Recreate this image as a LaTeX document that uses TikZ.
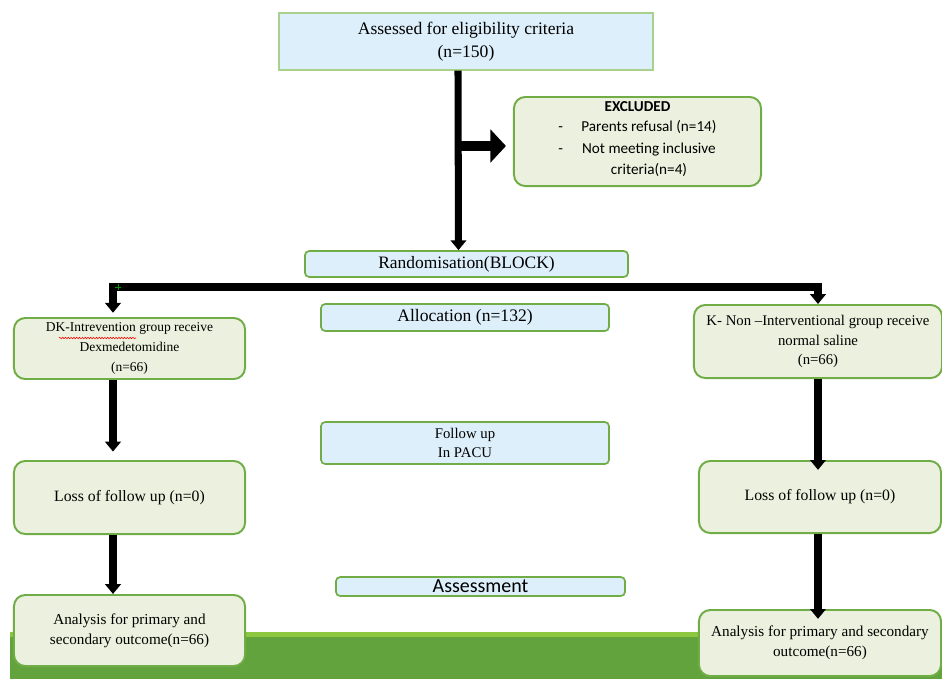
\documentclass[tikz,border=0pt]{standalone}
\usepackage{fontspec}
\setmainfont{Liberation Serif}
\newfontfamily\calibri{Carlito}
\usepackage{xcolor}
\usetikzlibrary{shapes,arrows.meta,positioning,calc,decorations.pathmorphing}
\definecolor{boxblue}{HTML}{DDEFFA}
\definecolor{boxgreen}{HTML}{EBF1DE}
\definecolor{edgegreen}{HTML}{70AD47}
\definecolor{edgelight}{HTML}{A9D18E}
\definecolor{bandgreen}{HTML}{62A33E}
\definecolor{bandlight}{HTML}{8DC63F}

\begin{document}
\begin{tikzpicture}[x=0.025cm, y=-0.025cm,
    every node/.style={font=\fontsize{10.8}{14}\selectfont, align=center, inner sep=1pt},
    bluebox/.style={draw=edgegreen, line width=1.2pt, fill=boxblue, rounded corners=3pt},
    greenbox/.style={draw=edgegreen, line width=1.4pt, fill=boxgreen, rounded corners=8pt},
    arrowline/.style={line width=5pt, -{Triangle[width=11pt,length=7pt]}}]
        \useasboundingbox (0,0) rectangle (942,679);
        % Bottom band
        \fill[bandgreen] (10,637) rectangle (942,679);
        \fill[bandlight] (10,632) rectangle (942,637);
        % Centre column
        \node[bluebox, draw=edgelight, line width=0.8pt, rounded corners=0pt, minimum width=9.35cm, minimum height=1.425cm, font=\fontsize{12.5}{16}\selectfont] (elig) at (466,41.5) {Assessed for eligibility criteria\\(n=150)};
        \node[greenbox, minimum width=6.175cm, minimum height=2.225cm, font=\calibri\fontsize{10.8}{15.5}\selectfont] (excl) at (637.5,141.5) {\textbf{EXCLUDED}\\[2pt]
            \begin{tabular}{@{}l@{\hspace{13pt}}c@{}}
            - & Parents refusal (n=14)\\
            - & Not meeting inclusive\\
              & criteria(n=4)
            \end{tabular}};
        \node[bluebox, minimum width=8.075cm, minimum height=0.65cm, font=\fontsize{12.4}{14}\selectfont] (rand) at (466.5,264) {Randomisation(BLOCK)};
        \node[bluebox, minimum width=7.2cm, minimum height=0.675cm, font=\fontsize{12.5}{14}\selectfont] (alloc) at (465,317.5) {Allocation (n=132)};
        \node[bluebox, minimum width=7.2cm, minimum height=1.05cm, font=\fontsize{10.5}{14}\selectfont] (follow) at (465,443) {Follow up\\In PACU};
        \node[bluebox, inner sep=0pt, minimum width=7.225cm, minimum height=0.475cm, font=\calibri\fontsize{14.2}{15}\selectfont] (assess) at (480.5,586.5) {Assessment};
        % Left column
        \node[greenbox, minimum width=5.775cm, minimum height=1.525cm, font=\fontsize{9.6}{14}\selectfont] (dk) at (129.5,348.5) {DK-Intrevention group receive\\Dexmedetomidine\\(n=66)};
        \node[greenbox, minimum width=5.775cm, minimum height=1.825cm, font=\fontsize{11.2}{14}\selectfont] (lossL) at (129.5,497.5) {Loss of follow up (n=0)};
        \node[greenbox, minimum width=5.775cm, minimum height=1.775cm] (anaL) at (129.5,630.5) {Analysis for primary and\\secondary outcome(n=66)};
        % Right column
        \node[greenbox, minimum width=6.2cm, minimum height=1.825cm, font=\fontsize{10.5}{14}\selectfont] (kgrp) at (818,341.5) {K- Non --Interventional group receive\\normal saline\\(n=66)};
        \node[greenbox, minimum width=6.05cm, minimum height=1.8cm, font=\fontsize{11.2}{14}\selectfont] (lossR) at (820,497) {Loss of follow up (n=0)};
        \node[greenbox, minimum width=6.05cm, minimum height=1.65cm] (anaR) at (820,643) {Analysis for primary and secondary\\outcome(n=66)};
        % Spell-check mark
        \draw[red, line width=0.4pt, decorate, decoration={snake, amplitude=0.5pt, segment length=2pt}] (59,338) -- (136,338);
        % Connectors
        \coordinate (split) at (458,146);
        \coordinate (barL) at (113,287);
        \coordinate (barR) at (818,287);
        \draw[arrowline] ([xshift=-0.2cm]elig.south) -- ([xshift=-0.2cm]rand.north);
        \draw[line width=7pt, -{Triangle[width=23pt,length=11pt]}, shorten >=5pt] (split) -- (split -| excl.west);
        \draw[line width=5pt, {Triangle[width=11pt,length=7pt]}-{Triangle[width=11pt,length=7pt]}, shorten <=3pt] (barL |- dk.north) -- (barL) -- (barR) -- (barR |- kgrp.north);
        \draw[green!60!black, line width=0.6pt] (115,287) -- (121,287) (118,284) -- (118,290);
        \draw[arrowline, shorten >=6pt] (dk.south -| barL) -- (lossL.north -| barL);
        \draw[arrowline] (lossL.south -| barL) -- (anaL.north -| barL);
        \draw[arrowline, shorten >=-7pt] (kgrp.south -| barR) -- (lossR.north -| barR);
        \draw[arrowline, shorten >=-7pt] (lossR.south -| barR) -- (anaR.north -| barR);
\end{tikzpicture}
\end{document}
